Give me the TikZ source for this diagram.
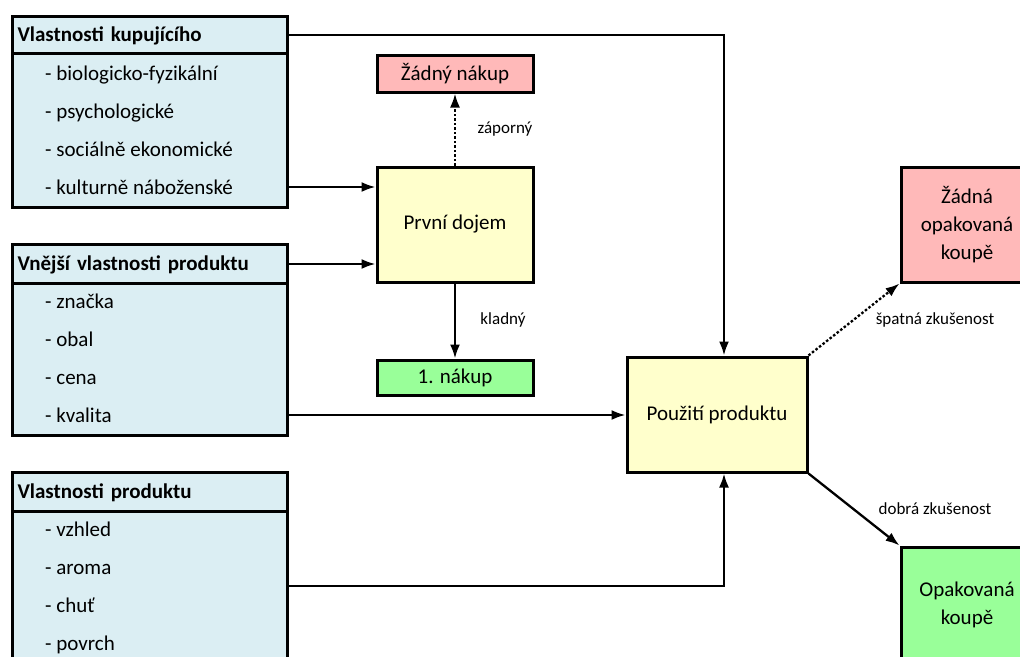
\documentclass[tikz,border=0pt]{standalone}
\usepackage{fontspec}
\setmainfont{Carlito}
\usetikzlibrary{arrows.meta}
\definecolor{propblue}{RGB}{219,238,243}
\definecolor{stageyellow}{RGB}{255,255,204}
\definecolor{negred}{RGB}{255,185,185}
\definecolor{posgreen}{RGB}{153,255,153}
\tikzset{
  box/.style={draw,line width=3pt,inner sep=0pt,align=center,font=\fontsize{21}{28}\selectfont},
  hdr/.style={box,fill=propblue,anchor=north west,minimum width=275pt,text width=265pt,align=left,text height=17pt,text depth=4pt,font=\bfseries\fontsize{21}{25}\selectfont},
  body/.style={box,fill=propblue,anchor=north west,minimum width=275pt},
  item/.style={anchor=west,inner sep=0pt,text height=18pt,text depth=4pt,font=\fontsize{21}{25}\selectfont},
  stagebox/.style={box,fill=stageyellow},
  negbox/.style={box,fill=negred},
  posbox/.style={box,fill=posgreen},
  lbl/.style={inner sep=0pt,text height=12pt,text depth=4pt,font=\fontsize{17}{20}\selectfont},
  conn/.style={line width=2.3pt,-{Latex[length=14pt,width=10pt]}},
  bad/.style={conn,dash pattern=on 2.5pt off 2pt}
}
\begin{document}
\begin{tikzpicture}[x=1pt,y=-1pt]
\useasboundingbox (0,0) rectangle (1020,656);
% left column
\node[body,minimum height=154pt] (bodyA) at (11,52) {};
\node[hdr,minimum height=37pt] (hdrA) at (11,15) {Vlastnosti kupujícího};
\node[item] (a1) at (45,73) {- biologicko-fyzikální};
\node[item] (a2) at (45,111) {- psychologické};
\node[item] (a3) at (45,149) {- sociálně ekonomické};
\node[item] (a4) at (45,187) {- kulturně náboženské};
\node[body,minimum height=152pt] (bodyB) at (11,282) {};
\node[hdr,minimum height=39pt] (hdrB) at (11,243) {Vnější vlastnosti produktu};
\node[item] (b1) at (45,301) {- značka};
\node[item] (b2) at (45,339) {- obal};
\node[item] (b3) at (45,377) {- cena};
\node[item] (b4) at (45,415) {- kvalita};
\node[body,minimum height=152pt] (bodyC) at (11,510) {};
\node[hdr,minimum height=39pt] (hdrC) at (11,471) {Vlastnosti produktu};
\node[item] (c1) at (45,529) {- vzhled};
\node[item] (c2) at (45,567) {- aroma};
\node[item] (c3) at (45,605) {- chuť};
\node[item] (c4) at (45,643) {- povrch};
\coordinate (cout) at (286,586);
% middle and right
\node[negbox,minimum width=156pt,minimum height=37pt] (none) at (455,73.5) {Žádný nákup};
\node[stagebox,minimum width=156pt,minimum height=115pt] (dojem) at (455,224.5) {První dojem};
\node[posbox,minimum width=156pt,minimum height=35pt] (first) at (455,377.5) {1. nákup};
\node[stagebox,minimum width=180pt,minimum height=115pt] (use) at (717,414.5) {Použití produktu};
\node[negbox,minimum width=132pt,minimum height=115pt] (norep) at (967,224.5) {Žádná\\opakovaná\\koupě};
\node[posbox,minimum width=132pt,minimum height=116pt] (rep) at (967,605) {Opakovaná\\koupě};
\draw[conn] (a4 -| bodyA.east) -- (dojem.west |- a4);
\draw[conn] (hdrB.east) -- (dojem.west |- hdrB.east);
\draw[bad] (dojem.north) -- (none.south);
\draw[conn] (dojem.south) -- (first.north);
\draw[conn] (hdrA.east) -| ([xshift=7pt]use.north);
\draw[conn] (b4 -| bodyB.east) -- (use.west |- b4);
\draw[conn] (cout) -| ([xshift=7pt]use.south);
\draw[bad] (use.north east) -- (norep.south west);
\draw[conn] (use.south east) -- (rep.north west);
\node[lbl] (lneg) at (505,129) {záporný};
\node[lbl] (lpos) at (503,320) {kladný};
\node[lbl] (lbad) at (935,320) {špatná zkušenost};
\node[lbl] (lgood) at (935,510) {dobrá zkušenost};
\end{tikzpicture}
\end{document}
